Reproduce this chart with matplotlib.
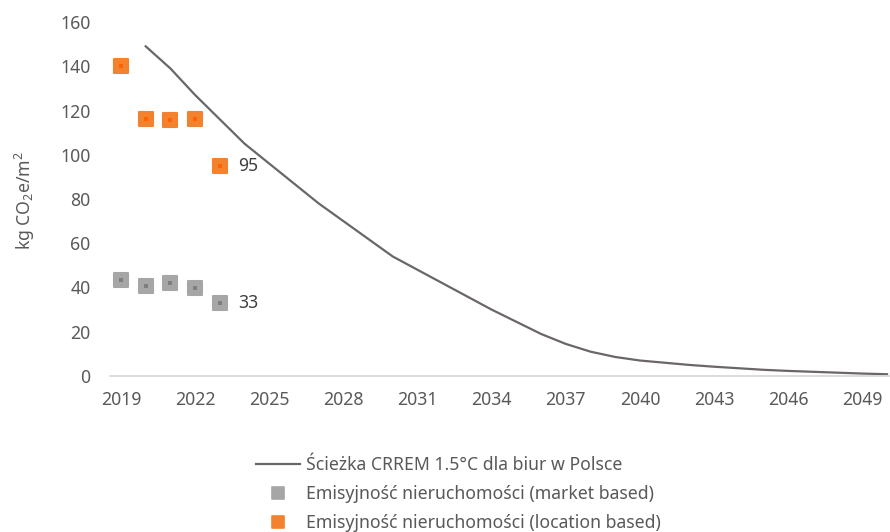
import matplotlib
matplotlib.use("Agg")
import matplotlib.pyplot as plt
from matplotlib.markers import MarkerStyle
from matplotlib.lines import Line2D

# data
path_years = list(range(2020, 2051))
path_vals = [149, 139, 127, 116, 105, 96, 87, 78, 70, 62, 54, 48, 42, 36, 30,
             24.5, 19, 14.5, 11, 8.6, 7, 6, 5, 4.2, 3.5, 2.8, 2.3, 1.9, 1.5, 1.1, 0.8]
pt_years = [2019, 2020, 2021, 2022, 2023]
market = [43.6, 40.6, 42.1, 40, 33]
location = [140, 116, 115.6, 116, 95]
tick_years = list(range(2019, 2051, 3))

label_path = "Ścieżka CRREM 1.5°C dla biur w Polsce"
label_market = "Emisyjność nieruchomości (market based)"
label_loc = "Emisyjność nieruchomości (location based)"

txt_col = "#595959"
line_col = "#6b6668"
orange, orange_in = "#F3822F", "#FF6200"
grey, grey_in = "#A6A6A6", "#7F7F7F"

plt.rcParams['font.family'] = ['Noto Sans', 'DejaVu Sans']
plt.rcParams['mathtext.fontset'] = 'custom'
plt.rcParams['mathtext.rm'] = 'Noto Sans'
plt.rcParams['mathtext.it'] = 'Noto Sans'
fs = 12.7

fig = plt.figure(figsize=(8.9, 5.32), dpi=100)
ax = fig.add_axes([110/890, 156/532, 780/890, 354/532])

ax.plot(path_years, path_vals, color=line_col, lw=1.6, zorder=2)

sq = MarkerStyle('s', joinstyle='round')
def squares(vals, outer, inner):
    ax.plot(pt_years, vals, ls='none', marker=sq, ms=10, mfc=outer, mec=outer,
            mew=1.5, zorder=3)
    ax.plot(pt_years, vals, ls='none', marker='s', ms=3, mfc=inner, mec=inner,
            mew=0, zorder=4)

squares(market, grey, grey_in)
squares(location, orange, orange_in)

ax.annotate(f"{market[-1]:.0f}", (pt_years[-1], market[-1]), xytext=(13, 0),
            textcoords='offset points', va='center', ha='left', fontsize=fs, color="#404040")
ax.annotate(f"{location[-1]:.0f}", (pt_years[-1], location[-1]), xytext=(13, 0),
            textcoords='offset points', va='center', ha='left', fontsize=fs, color="#404040")

ax.set_xlim(2018.555, 2050.12)
ax.set_ylim(0, 160)
ax.set_yticks(range(0, 161, 20))
ax.set_xticks(tick_years)
ax.tick_params(length=0, labelsize=fs, labelcolor=txt_col)
ax.tick_params(axis='y', pad=14)
ax.tick_params(axis='x', pad=11)
for s in ['left', 'right', 'top']:
    ax.spines[s].set_visible(False)
ax.spines['bottom'].set_color("#D9D9D9")
ax.spines['bottom'].set_linewidth(1.3)

fig.text(25/890, 1 - 200/532, r"kg CO$_2$e/m$^2$", rotation=90, ha='center', va='center',
         fontsize=fs, color=txt_col)

handles = [
    Line2D([], [], color=line_col, lw=1.6),
    Line2D([], [], ls='none', marker=sq, ms=9, mfc=grey, mec=grey, mew=1.2),
    Line2D([], [], ls='none', marker=sq, ms=9, mfc=orange, mec=orange, mew=1.2),
]
leg = fig.legend(handles, [label_path, label_market, label_loc], loc='upper left',
                 bbox_to_anchor=(256/890, 1 - 456/532), frameon=False, fontsize=fs,
                 handlelength=2.5, handletextpad=0.35, labelspacing=0.62,
                 borderpad=0, borderaxespad=0)
for t in leg.get_texts():
    t.set_color(txt_col)

fig.savefig("out.png", dpi=100)
